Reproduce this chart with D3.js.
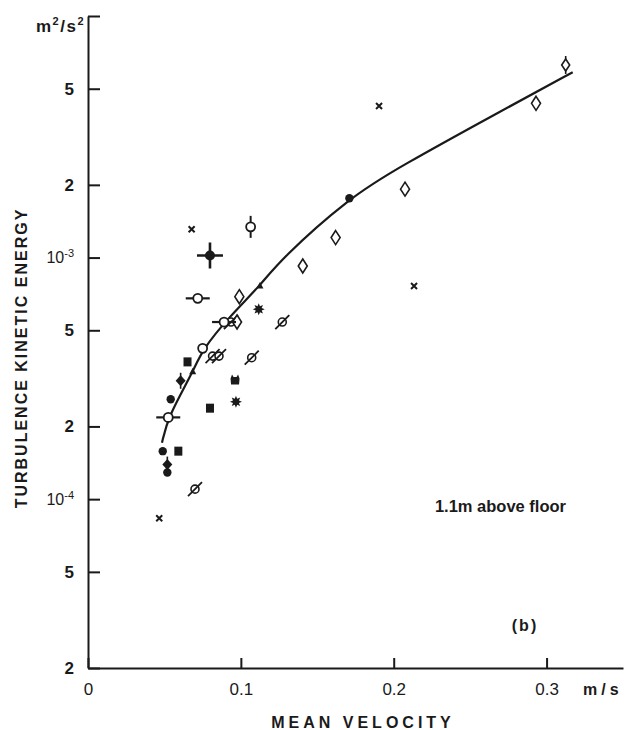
<!DOCTYPE html>
<html><head><meta charset="utf-8">
<script src="https://cdn.jsdelivr.net/npm/d3@7"></script>
<style>body{margin:0;background:#fff}svg{display:block}</style>
</head><body>
<script>
// ---- tick data ----
const yTickValues = [2e-5,5e-5,1e-4,2e-4,5e-4,1e-3,2e-3,5e-3,1e-2];
const yTickLabels = ["2","5","10|-4","2","5","10|-3","2","5",""];
const xTickValues = [0,0.1,0.2,0.3];
const xTickLabels = ["0","0.1","0.2","0.3"];

// ---- fitted curve ----
const fitV = [0.0484,0.0523,0.0687,0.0746,0.0929,0.1125,0.1256,0.1707,0.2041,0.2695,0.3171];
const fitE = [1.71e-4,2.19e-4,3.36e-4,4.15e-4,5.73e-4,7.63e-4,9.77e-4,1.765e-3,2.38e-3,4.02e-3,5.85e-3];

// ---- measured series (velocity m/s, energy m2/s2) ----
const crossV = [0.0678,0.1904,0.2133,0.0466];
const crossE = [1.31e-3,4.24e-3,7.63e-4,8.34e-5];
const circleVbarV = [0.1064];
const circleVbarE = [1.34e-3];
const dotPlusV = [0.0798];
const dotPlusE = [1.02e-3];
const circleHbarV = [0.0718,0.0890,0.0525];
const circleHbarE = [6.78e-4,5.41e-4,2.18e-4];
const openCircleV = [0.0750];
const openCircleE = [4.21e-4];
const diamondV = [0.0990,0.0975,0.1405,0.1620,0.2074,0.2931];
const diamondE = [6.89e-4,5.41e-4,9.23e-4,1.21e-3,1.92e-3,4.35e-3];
const diamondBarV = [0.3125];
const diamondBarE = [6.27e-3];
const triangleV = [0.1125,0.0685];
const triangleE = [7.63e-4,3.37e-4];
const starV = [0.1117,0.0968];
const starE = [6.11e-4,2.53e-4];
const slashV = [0.0935,0.0815,0.0857,0.1071,0.1271,0.0700];
const slashE = [5.41e-4,3.91e-4,3.91e-4,3.85e-4,5.41e-4,1.10e-4];
const squareV = [0.0651,0.0798,0.0591];
const squareE = [3.70e-4,2.38e-4,1.58e-4];
const bellV = [0.0962];
const bellE = [3.13e-4];
const fDiamondV = [0.0606,0.0519];
const fDiamondE = [3.09e-4,1.39e-4];
const dotV = [0.0541,0.0489,0.0519,0.1710];
const dotE = [2.59e-4,1.58e-4,1.29e-4,1.76e-3];

const W = 628, H = 730, INK = "#1a1a1a";
const FONT = "'Liberation Sans', Arial, Helvetica, sans-serif";

const svg = d3.select("body").append("svg").attr("width", W).attr("height", H)
  .style("background", "#fff").style("font-family", FONT);

const x = d3.scaleLinear().domain([0, 0.35]).range([88, 623]);
const y = d3.scaleLog().domain([2e-5, 1e-2]).range([668, 16]);

// ---- axes ----
const yAxis = d3.axisLeft(y).tickValues(yTickValues)
  .tickSizeInner(-12).tickSizeOuter(0).tickPadding(14)
  .tickFormat((d, i) => yTickLabels[i]);
const gy = svg.append("g").attr("transform", "translate(88,0)").call(yAxis);
gy.select(".domain").attr("stroke", INK).attr("stroke-width", 2);
gy.selectAll(".tick line").attr("stroke", INK).attr("stroke-width", 2);
gy.selectAll(".tick text").attr("fill", INK).style("font-size", "17px")
  .style("font-family", FONT).style("font-weight", "bold")
  .each(function(d, i) {
    const lab = yTickLabels[i];
    if (lab.includes("|")) {
      const [base, sup] = lab.split("|");
      const t = d3.select(this).text(base).style("font-weight", "normal").style("font-size", "16px");
      t.append("tspan").attr("dy", "-0.55em").style("font-size", "11px").text(sup);
    }
  });

const xAxis = d3.axisBottom(x).tickValues(xTickValues)
  .tickSizeInner(-10).tickSizeOuter(0).tickPadding(15)
  .tickFormat((d, i) => xTickLabels[i]);
const gx = svg.append("g").attr("transform", "translate(0,668)").call(xAxis);
gx.select(".domain").attr("stroke", INK).attr("stroke-width", 2);
gx.selectAll(".tick line").attr("stroke", INK).attr("stroke-width", 2);
gx.selectAll(".tick text").attr("fill", INK).style("font-size", "17px").style("font-family", FONT);

// ---- titles & annotations ----
const unit = svg.append("text").attr("x", 85).attr("y", 32).attr("text-anchor", "end")
  .attr("fill", INK).style("font-size", "17px").style("font-weight", "bold").style("letter-spacing", "1.5px");
unit.append("tspan").text("m");
unit.append("tspan").attr("dy", "-7").style("font-size", "11px").text("2");
unit.append("tspan").attr("dy", "7").text("/s");
unit.append("tspan").attr("dy", "-7").style("font-size", "11px").text("2");

svg.append("text").attr("transform", "translate(27,358) rotate(-90)")
  .attr("text-anchor", "middle").attr("fill", INK)
  .style("font-size", "16px").style("font-weight", "bold").style("letter-spacing", "2px")
  .text("TURBULENCE KINETIC ENERGY");

svg.append("text").attr("x", 363).attr("y", 728).attr("text-anchor", "middle").attr("fill", INK)
  .style("font-size", "16px").style("font-weight", "bold").style("letter-spacing", "4px")
  .text("MEAN VELOCITY");

svg.append("text").attr("x", 583).attr("y", 695).attr("fill", INK)
  .style("font-size", "16px").style("font-weight", "bold").style("letter-spacing", "4px")
  .text("m/s");

svg.append("text").attr("x", 566).attr("y", 512).attr("text-anchor", "end").attr("fill", INK)
  .style("font-size", "16.5px").style("font-weight", "bold")
  .text("1.1m above floor");

svg.append("text").attr("x", 525).attr("y", 631).attr("text-anchor", "middle").attr("fill", INK)
  .style("font-size", "16px").style("font-weight", "bold").style("letter-spacing", "2px")
  .text("(b)");

// ---- fitted curve ----
const line = d3.line().x((d, i) => x(fitV[i])).y((d, i) => y(fitE[i])).curve(d3.curveBasis);
svg.append("path").datum(fitV).attr("d", line).attr("fill", "none")
  .attr("stroke", INK).attr("stroke-width", 2.2);

// ---- markers ----
const star8 = (() => { const p = []; for (let k = 0; k < 16; k++) { const r = k % 2 ? 3.2 : 6; const a = Math.PI * k / 8; p.push([r * Math.sin(a), -r * Math.cos(a)]); } return "M" + p.join("L") + "Z"; })();
const drawers = {
  cross: g => { g.append("path").attr("d", "M-3,-3L3,3M3,-3L-3,3").attr("stroke", INK).attr("stroke-width", 2); },
  circleVbar: g => {
    g.append("path").attr("d", "M0,-11L0,11").attr("stroke", INK).attr("stroke-width", 2);
    g.append("circle").attr("r", 4.5).attr("fill", "#fff").attr("stroke", INK).attr("stroke-width", 1.8);
  },
  dotPlus: g => {
    g.append("path").attr("d", "M-13,0L13,0M0,-13L0,13").attr("stroke", INK).attr("stroke-width", 2.6);
    g.append("circle").attr("r", 5).attr("fill", INK);
  },
  circleHbar: g => {
    g.append("path").attr("d", "M-12,0L12,0").attr("stroke", INK).attr("stroke-width", 2.2);
    g.append("circle").attr("r", 4.5).attr("fill", "#fff").attr("stroke", INK).attr("stroke-width", 1.8);
  },
  openCircle: g => { g.append("circle").attr("r", 4.5).attr("fill", "#fff").attr("stroke", INK).attr("stroke-width", 1.8); },
  diamond: g => { g.append("path").attr("d", "M0,-7L4.5,0L0,7L-4.5,0Z").attr("fill", "#fff").attr("stroke", INK).attr("stroke-width", 1.6); },
  diamondBar: g => {
    g.append("path").attr("d", "M0,-9L0,9").attr("stroke", INK).attr("stroke-width", 1.6);
    g.append("path").attr("d", "M0,-6L4,0L0,6L-4,0Z").attr("fill", "#fff").attr("stroke", INK).attr("stroke-width", 1.6);
  },
  triangle: g => { g.append("path").attr("d", "M-3.5,2.5L3.5,2.5L0,-4Z").attr("fill", INK); },
  star: g => { g.append("path").attr("d", star8).attr("fill", INK); },
  slash: g => {
    g.append("circle").attr("r", 4).attr("fill", "#fff").attr("stroke", INK).attr("stroke-width", 1.6);
    g.append("path").attr("d", "M-7,7L7,-7").attr("stroke", INK).attr("stroke-width", 1.8);
  },
  square: g => { g.append("rect").attr("x", -4).attr("y", -4.5).attr("width", 8).attr("height", 9).attr("fill", INK); },
  bell: g => { g.append("path").attr("d", "M-4,5L4,5L4.5,-1L3,-5L1.5,-2.5L-1.5,-2.5L-3,-5L-4.5,-1Z").attr("fill", INK); },
  fDiamond: g => {
    g.append("path").attr("d", "M0,-5.5L5,0L0,5.5L-5,0Z").attr("fill", INK);
    g.append("path").attr("d", "M0,-8L0,8").attr("stroke", INK).attr("stroke-width", 1.6);
  },
  dot: g => { g.append("circle").attr("r", 4.2).attr("fill", INK); }
};
const series = [
  ["slash", slashV, slashE], ["diamond", diamondV, diamondE], ["diamondBar", diamondBarV, diamondBarE],
  ["circleHbar", circleHbarV, circleHbarE], ["openCircle", openCircleV, openCircleE],
  ["circleVbar", circleVbarV, circleVbarE], ["dotPlus", dotPlusV, dotPlusE],
  ["cross", crossV, crossE], ["triangle", triangleV, triangleE], ["star", starV, starE],
  ["square", squareV, squareE], ["bell", bellV, bellE], ["fDiamond", fDiamondV, fDiamondE], ["dot", dotV, dotE]
];
series.forEach(([type, vs, es]) => {
  svg.append("g").attr("class", "series-" + type).selectAll("g").data(vs).join("g")
    .attr("transform", (d, i) => `translate(${x(d)},${y(es[i])})`)
    .each(function() { drawers[type](d3.select(this)); });
});
</script>
</body></html>
